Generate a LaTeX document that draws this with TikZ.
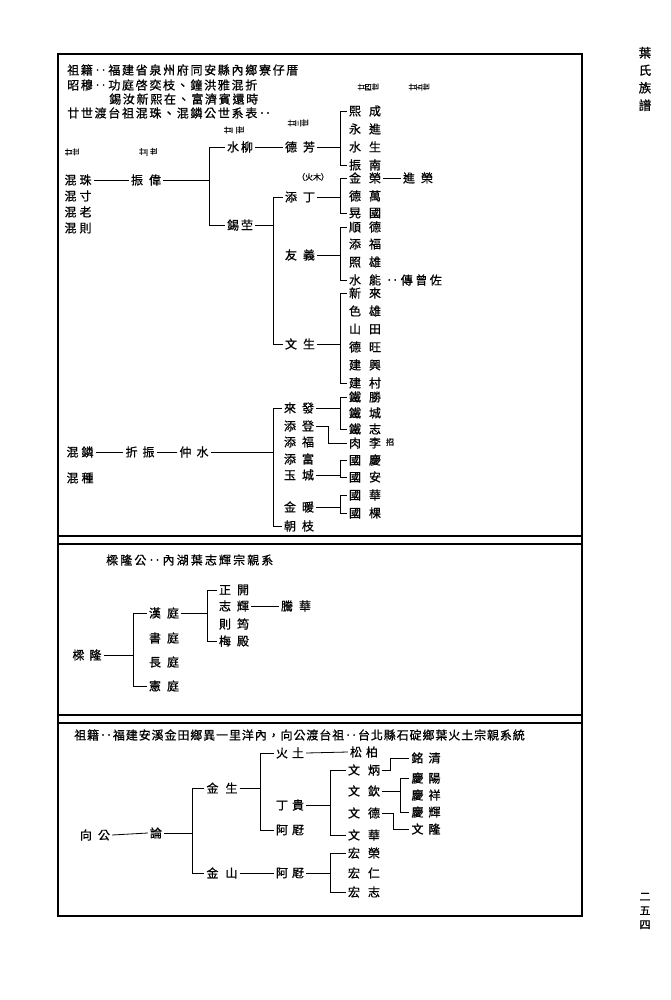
\documentclass[tikz,border=0pt]{standalone}
\usepackage{fontspec}
\setmainfont{Noto Sans CJK TC}[FakeBold=0.8]
\usepackage{graphicx}
\newlength\lspgap
\newcommand\lsp[2][6]{\setlength\lspgap{#1pt}\lspB#2\relax}
\def\lspB#1#2{#1\ifx#2\relax\else\kern\lspgap\expandafter\lspB\expandafter#2\fi}
\newcommand\rotl[1]{\rotB#1\relax}
\def\rotB#1#2{\rotatebox[origin=c]{90}{#1}\ifx#2\relax\else\kern0.6pt\expandafter\rotB\expandafter#2\fi}
\newcommand\brk[4]{%
  \draw[ln] (#1.east) -- (#1.east -| #4);
  \draw[ln] (#2.west) -- (#2.west -| #4) -- (#3.west -| #4) -- (#3.west);}
\begin{document}
\begin{tikzpicture}[x=1pt,y=-1pt,
  nm/.style={inner sep=2pt,font=\fontsize{12}{12}\selectfont},
  hd/.style={inner sep=0pt,anchor=west,font=\fontsize{12}{12}\selectfont},
  gen/.style={inner sep=0pt,font=\fontsize{7.5}{7.5}\selectfont},
  sm/.style={inner sep=1pt,font=\fontsize{8}{8}\selectfont},
  ln/.style={line width=0.8pt},
  fr/.style={line width=1.4pt}]
\useasboundingbox (0,0) rectangle (670,1000);
\fill[white] (0,0) rectangle (670,1000);
% frame
\draw[fr] (58,54) rectangle (582,916);
\draw[fr] (58,536) -- (582,536);
\draw[fr] (58,544) -- (582,544);
\draw[fr] (58,715) -- (582,715);
\draw[fr] (58,723) -- (582,723);
% margin texts
\node[inner sep=0pt,font=\fontsize{12.5}{17.5}\selectfont,align=center] (ttl) at (645,79) {葉\\氏\\族\\譜};
\node[inner sep=0pt,font=\fontsize{11}{14}\selectfont,align=center] (pg) at (645,911) {二\\五\\四};
% bracket x positions
\coordinate (b1) at (209,0);
\coordinate (b2) at (340,0);
\coordinate (b3) at (273,0);
\coordinate (e1) at (328,0);
\coordinate (b4) at (133,0);
\coordinate (b5) at (207,0);
\coordinate (b6) at (192,0);
\coordinate (b7) at (260,0);
\coordinate (b8) at (330,0);
\coordinate (b9) at (400,0);
\coordinate (e2) at (390,0);
\coordinate (e3) at (393,0);
% ===== panel 1 =====
\node[hd] (h1) at (67,70) {\lsp[1.7]{祖籍‥福建省泉州府同安縣內鄉寮仔厝}};
\node[hd] (h2) at (67,85) {\lsp[1.7]{昭穆‥功庭啓奕枝、鐘洪雅混折}};
\node[hd] (h3) at (109,99) {\lsp[1.7]{錫汝新熙在、富濟賓還時}};
\node[hd] (h4) at (67,113) {\lsp[1.7]{廿世渡台祖混珠、混鏻公世系表‥}};
\node[gen] (g20) at (72,152) {\rotl{廿世}};
\node[gen] (g21) at (148,152) {\rotl{廿一世}};
\node[gen] (g22) at (234,130) {\rotl{廿二世}};
\node[gen] (g23) at (298,123) {\rotl{廿三世}};
\node[gen] (g24) at (368,87) {\rotl{廿四世}};
\node[gen] (g25) at (419,87) {\rotl{廿五世}};
\node[nm] (hzz) at (78,180) {\lsp[3]{混珠}};
\node[nm] (hzc) at (78,196) {\lsp[3]{混寸}};
\node[nm] (hzl) at (78,212) {\lsp[3]{混老}};
\node[nm] (hzx) at (78,228) {\lsp[3]{混則}};
\node[nm] (zw) at (146,180) {\lsp[6]{振偉}};
\node[nm] (sl) at (240,147) {\lsp[2]{水柳}};
\node[nm] (xk) at (240,225) {\lsp[2]{錫茔}};
\node[nm] (df) at (300,147) {\lsp[6]{德芳}};
\node[sm] (hm) at (313,177) {（火木）};
\node[nm] (td) at (300,197) {\lsp[6]{添丁}};
\node[nm] (yy) at (300,255) {\lsp[6]{友義}};
\node[nm] (ws) at (300,344) {\lsp[6]{文生}};
\node[nm] (a1) at (365,111) {\lsp[8]{熙成}};
\node[nm] (a2) at (365,129) {\lsp[8]{永進}};
\node[nm] (a3) at (365,147) {\lsp[8]{水生}};
\node[nm] (a4) at (365,165) {\lsp[8]{振南}};
\node[nm] (c1) at (365,178) {\lsp[8]{金榮}};
\node[nm] (c2) at (365,196) {\lsp[8]{德萬}};
\node[nm] (c3) at (365,213) {\lsp[8]{晃國}};
\node[nm] (jr) at (418,178) {\lsp[6]{進榮}};
\node[nm] (d1) at (365,227) {\lsp[8]{順德}};
\node[nm] (d2) at (365,244) {\lsp[8]{添福}};
\node[nm] (d3) at (365,262) {\lsp[8]{照雄}};
\node[nm] (d4) at (365,280) {\lsp[8]{水能}};
\node[nm] (czz) at (414,280) {\lsp[2.5]{‥傳曾佐}};
\node[nm] (f1) at (365,293) {\lsp[8]{新來}};
\node[nm] (f2) at (365,311) {\lsp[8]{色雄}};
\node[nm] (f3) at (365,329) {\lsp[8]{山田}};
\node[nm] (f4) at (365,347) {\lsp[8]{德旺}};
\node[nm] (f5) at (365,365) {\lsp[8]{建興}};
\node[nm] (f6) at (365,383) {\lsp[8]{建村}};
\draw[ln] (hzz.east) -- (zw.west);
\brk{zw}{sl}{xk}{b1}
\draw[ln] (sl.east) -- (df.west);
\brk{df}{a1}{a4}{b2}
\brk{xk}{td}{ws}{b3}
\brk{td}{c1}{c3}{b2}
\draw[ln] (c1.east) -- (jr.west);
\brk{yy}{d1}{d4}{b2}
\brk{ws}{f1}{f6}{b2}
% lower subtree
\node[nm] (hl) at (80,452) {\lsp[3]{混鏻}};
\node[nm] (hzh) at (80,478) {\lsp[3]{混種}};
\node[nm] (zz) at (140,452) {\lsp[5]{折振}};
\node[nm] (zs) at (194,452) {\lsp[5]{仲水}};
\node[nm] (k1) at (299,408) {\lsp[6]{來發}};
\node[nm] (k2) at (299,426) {\lsp[6]{添登}};
\node[nm] (k3) at (299,442) {\lsp[6]{添福}};
\node[nm] (k4) at (299,459) {\lsp[6]{添富}};
\node[nm] (k5) at (299,475) {\lsp[6]{玉城}};
\node[nm] (k6) at (299,507) {\lsp[6]{金暖}};
\node[nm] (k7) at (299,526) {\lsp[6]{朝枝}};
\node[nm] (m1) at (365,397) {\lsp[8]{鐵勝}};
\node[nm] (m2) at (365,413) {\lsp[8]{鐵城}};
\node[nm] (m3) at (365,429) {\lsp[8]{鐵志}};
\node[nm] (rl) at (365,443) {\lsp[8]{肉李}};
\node[sm] (zh) at (390,442) {招};
\node[nm] (n1) at (365,460) {\lsp[8]{國慶}};
\node[nm] (n2) at (365,477) {\lsp[8]{國安}};
\node[nm] (p1) at (365,495) {\lsp[8]{國華}};
\node[nm] (p2) at (365,513) {\lsp[8]{國棵}};
\draw[ln] (hl.east) -- (zz.west);
\draw[ln] (zz.east) -- (zs.west);
\brk{zs}{k1}{k7}{b3}
\brk{k1}{m1}{m3}{b2}
\draw[ln] (k2.east) -- (k2.east -| e1) -- (rl.west -| e1) -- (rl.west);
\brk{k5}{n1}{n2}{b2}
\brk{k6}{p1}{p2}{b2}
% ===== panel 2 =====
\node[hd] (h5) at (106,560) {\lsp[2.1]{樑隆公‥內湖葉志輝宗親系}};
\node[nm] (ll) at (87,655) {\lsp[5]{樑隆}};
\node[nm] (t1) at (164,613) {\lsp[6]{漢庭}};
\node[nm] (t2) at (164,638) {\lsp[6]{書庭}};
\node[nm] (t3) at (164,662) {\lsp[6]{長庭}};
\node[nm] (t4) at (164,686) {\lsp[6]{憲庭}};
\node[nm] (u1) at (234,590) {\lsp[6]{正開}};
\node[nm] (u2) at (234,606) {\lsp[6]{志輝}};
\node[nm] (u3) at (234,624) {\lsp[6]{則筠}};
\node[nm] (u4) at (234,641) {\lsp[6]{梅殿}};
\node[nm] (th) at (296,606) {\lsp[6]{騰華}};
\brk{ll}{t1}{t4}{b4}
\brk{t1}{u1}{u4}{b5}
\draw[ln] (u2.east) -- (th.west);
% ===== panel 3 =====
\node[hd] (h6) at (74,735) {\lsp[0.9]{祖籍‥福建安溪金田鄉異一里洋內，向公渡台祖‥台北縣石碇鄉葉火土宗親系統}};
\node[nm] (xg) at (95,835) {\lsp[6]{向公}};
\node[nm] (lun) at (156,833) {論};
\node[nm] (js) at (222,788) {\lsp[7]{金生}};
\node[nm] (jsh) at (222,873) {\lsp[7]{金山}};
\node[nm] (ht) at (290,753) {\lsp[4]{火土}};
\node[nm] (dg) at (290,805) {\lsp[4]{丁貴}};
\node[nm] (am1) at (290,830) {\lsp[4]{阿屘}};
\node[nm] (am2) at (290,873) {\lsp[4]{阿屘}};
\node[nm] (sb) at (364,752) {\lsp[4]{松柏}};
\node[nm] (w1) at (364,770) {\lsp[8]{文炳}};
\node[nm] (w2) at (364,791) {\lsp[8]{文欽}};
\node[nm] (w3) at (364,813) {\lsp[8]{文德}};
\node[nm] (w4) at (364,835) {\lsp[8]{文華}};
\node[nm] (q1) at (364,853) {\lsp[8]{宏榮}};
\node[nm] (q2) at (364,873) {\lsp[8]{宏仁}};
\node[nm] (q3) at (364,892) {\lsp[8]{宏志}};
\node[nm] (mq) at (426,758) {\lsp[5]{銘清}};
\node[nm] (r1) at (426,778) {\lsp[5]{慶陽}};
\node[nm] (r2) at (426,795) {\lsp[5]{慶祥}};
\node[nm] (r3) at (426,812) {\lsp[5]{慶輝}};
\node[nm] (wl) at (426,829) {\lsp[5]{文隆}};
\draw[ln] (xg.east) -- (lun.west);
\brk{lun}{js}{jsh}{b6}
\brk{js}{ht}{am1}{b7}
\draw[ln] (jsh.east) -- (am2.west);
\draw[ln] (ht.east) -- (sb.west);
\brk{dg}{w1}{w4}{b8}
\brk{am2}{q1}{q3}{b8}
\draw[ln] (w1.east) -- (w1.east -| e2) -- (mq.west -| e2) -- (mq.west);
\brk{w2}{r1}{r3}{b9}
\draw[ln] (w3.east) -- (w3.east -| e3) -- (wl.west -| e3) -- (wl.west);
\end{tikzpicture}
\end{document}
